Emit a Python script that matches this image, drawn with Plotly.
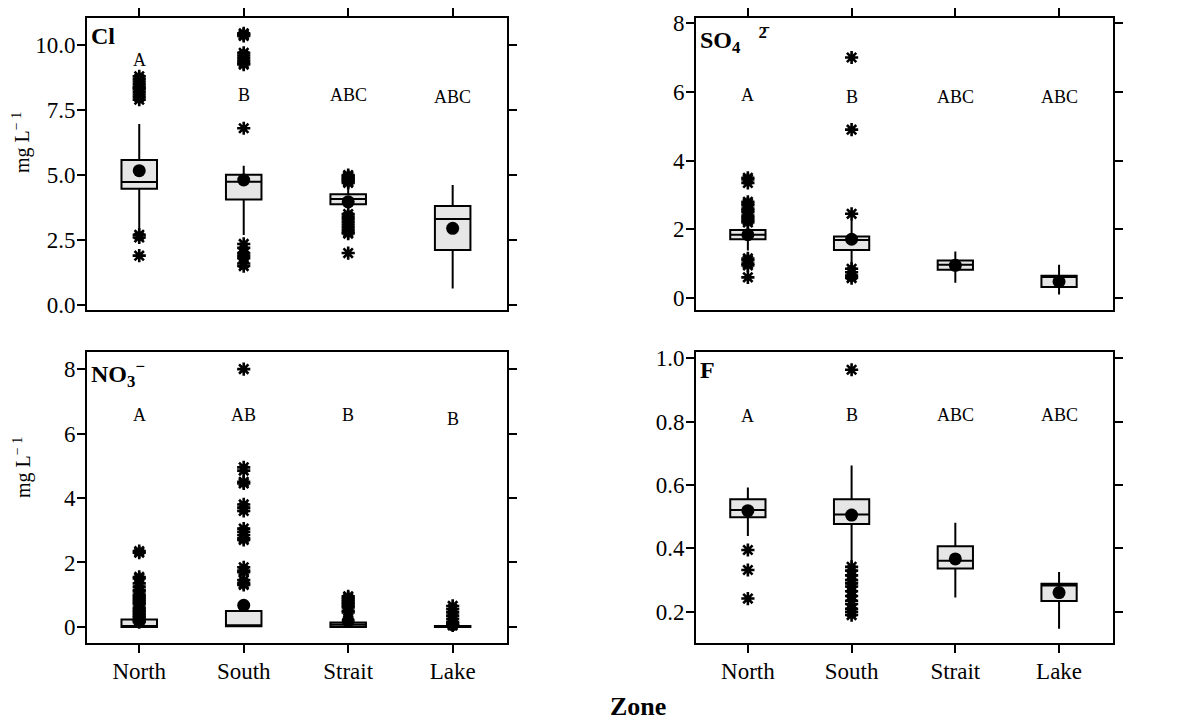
import plotly.graph_objects as go

zones = ["North", "South", "Strait", "Lake"]
xpos = [0, 1, 2, 3]

# ---- Cl ----
cl_q1 = [4.47, 4.06, 3.88, 2.12]
cl_median = [4.73, 4.74, 4.08, 3.31]
cl_q3 = [5.58, 5.01, 4.26, 3.81]
cl_low = [2.9, 2.69, 3.55, 0.64]
cl_high = [6.96, 5.36, 4.6, 4.62]
cl_mean = [5.17, 4.81, 3.97, 2.95]
cl_out = [
    [8.8, 8.7, 8.6, 8.5, 8.4, 8.35, 8.3, 8.2, 8.1, 8.0, 7.9, 2.7, 2.6, 1.9],
    [10.45, 10.4, 10.35, 9.7, 9.6, 9.5, 9.4, 9.3, 9.25, 6.8, 2.35, 2.2, 2.0, 1.9, 1.8, 1.6, 1.5],
    [5.0, 4.95, 4.9, 4.85, 4.8, 4.75, 4.7, 3.5, 3.4, 3.3, 3.2, 3.1, 3.0, 2.9, 2.8, 2.75, 2.0],
    [],
]
cl_letters = ["A", "B", "ABC", "ABC"]
cl_letter_y = [9.42, 8.08, 8.08, 8.01]

# ---- SO4 ----
so4_q1 = [1.71, 1.40, 0.82, 0.32]
so4_median = [1.84, 1.69, 0.97, 0.61]
so4_q3 = [1.98, 1.79, 1.09, 0.65]
so4_low = [1.38, 0.92, 0.44, 0.10]
so4_high = [2.15, 2.27, 1.35, 0.97]
so4_mean = [1.84, 1.71, 0.95, 0.48]
so4_out = [
    [3.5, 3.45, 3.35, 2.8, 2.75, 2.7, 2.6, 2.55, 2.5, 2.4, 2.35, 2.3, 2.25, 2.2, 1.15, 1.1, 1.0, 0.95, 0.6],
    [7.0, 4.9, 2.45, 0.85, 0.75, 0.65, 0.58],
    [],
    [],
]
so4_letters = ["A", "B", "ABC", "ABC"]
so4_letter_y = [5.9, 5.85, 5.85, 5.85]

# ---- NO3 ----
no3_q1 = [0.0, 0.02, 0.0, 0.0]
no3_median = [0.02, 0.04, 0.07, 0.01]
no3_q3 = [0.23, 0.49, 0.14, 0.03]
no3_low = [0.0, 0.0, 0.0, 0.0]
no3_high = [0.5, 0.75, 0.3, 0.05]
no3_mean = [0.18, 0.67, 0.18, 0.07]
no3_out = [
    [2.35, 2.3, 1.55, 1.5, 1.35, 1.25, 1.15, 1.1, 1.0, 0.95, 0.9, 0.85, 0.8, 0.75, 0.7, 0.6,
     0.55, 0.5, 0.45, 0.4, 0.35, 0.3, 0.25, 0.2, 0.15],
    [8.0, 4.95, 4.85, 4.5, 4.45, 3.8, 3.7, 3.6, 3.05, 2.95, 2.85, 2.75, 2.7, 1.85, 1.75, 1.7,
     1.45, 1.35, 1.3],
    [0.95, 0.9, 0.85, 0.8, 0.75, 0.7, 0.65, 0.6, 0.5, 0.45],
    [0.65, 0.55, 0.45, 0.35, 0.25, 0.15, 0.1, 0.05],
]
no3_letters = ["A", "AB", "B", "B"]
no3_letter_y = [6.58, 6.58, 6.58, 6.45]

# ---- F ----
f_q1 = [0.498, 0.477, 0.337, 0.234]
f_median = [0.521, 0.507, 0.361, 0.283]
f_q3 = [0.555, 0.555, 0.407, 0.289]
f_low = [0.439, 0.35, 0.245, 0.147]
f_high = [0.592, 0.661, 0.481, 0.326]
f_mean = [0.519, 0.505, 0.367, 0.261]
f_out = [
    [0.395, 0.332, 0.242],
    [0.963, 0.342, 0.33, 0.315, 0.30, 0.29, 0.28, 0.265, 0.25, 0.235, 0.225, 0.21, 0.20, 0.19],
    [],
    [],
]
f_letters = ["A", "B", "ABC", "ABC"]
f_letter_y = [0.816, 0.821, 0.821, 0.821]

FONT = "Liberation Serif, Times New Roman, serif"

# figure size accounting for the 8px page margin of the HTML body
W, H, OFF = 1195, 713, 8


def px(xp):
    return (xp - OFF) / W


def py(yp):
    return 1 - (yp - OFF) / H


LEFT = [px(87), px(507)]
RIGHT = [px(696), px(1113)]
TOP = [py(310), py(18)]
BOTTOM = [py(643), py(352)]

panels = [
    dict(q1=cl_q1, med=cl_median, q3=cl_q3, lo=cl_low, hi=cl_high, mean=cl_mean, out=cl_out,
         let=cl_letters, ly=cl_letter_y, xa="x", ya="y",
         xdom=LEFT, ydom=TOP, yrange=[-0.19, 11.04],
         tickvals=[0, 2.5, 5, 7.5, 10], fmt=".1f", top=True,
         label="<b>Cl</b>"),
    dict(q1=so4_q1, med=so4_median, q3=so4_q3, lo=so4_low, hi=so4_high, mean=so4_mean, out=so4_out,
         let=so4_letters, ly=so4_letter_y, xa="x2", ya="y2",
         xdom=RIGHT, ydom=TOP, yrange=[-0.35, 8.15],
         tickvals=[0, 2, 4, 6, 8], fmt="d", top=True,
         label="<b>SO<sub>4</sub>   <sup>2\u0304</sup></b>"),
    dict(q1=no3_q1, med=no3_median, q3=no3_q3, lo=no3_low, hi=no3_high, mean=no3_mean, out=no3_out,
         let=no3_letters, ly=no3_letter_y, xa="x3", ya="y3",
         xdom=LEFT, ydom=BOTTOM, yrange=[-0.5, 8.53],
         tickvals=[0, 2, 4, 6, 8], fmt="d", top=False,
         label="<b>NO<sub>3</sub><sup>\u2212</sup></b>"),
    dict(q1=f_q1, med=f_median, q3=f_q3, lo=f_low, hi=f_high, mean=f_mean, out=f_out,
         let=f_letters, ly=f_letter_y, xa="x4", ya="y4",
         xdom=RIGHT, ydom=BOTTOM, yrange=[0.102, 1.019],
         tickvals=[0.2, 0.4, 0.6, 0.8, 1.0], fmt=".1f", top=False,
         label="<b>F</b>"),
]

fig = go.Figure()
layout = dict(
    width=W, height=H,
    margin=dict(l=0, r=0, t=0, b=0),
    paper_bgcolor="white", plot_bgcolor="white",
    showlegend=False,
    font=dict(family=FONT, color="black", size=22),
)
annotations = []

for i, p in enumerate(panels):
    for k in range(4):
        fig.add_trace(go.Box(
            x=[xpos[k]], q1=[p["q1"][k]], median=[p["med"][k]], q3=[p["q3"][k]],
            lowerfence=[p["lo"][k]], upperfence=[p["hi"][k]],
            width=0.34, whiskerwidth=0, fillcolor="#e6e6e6",
            line=dict(color="black", width=2), boxpoints=False,
            xaxis=p["xa"], yaxis=p["ya"], hoverinfo="skip",
        ))
    ox, oy = [], []
    for k in range(4):
        for v in p["out"][k]:
            ox.append(xpos[k])
            oy.append(v)
    fig.add_trace(go.Scatter(
        x=ox, y=oy, mode="markers", xaxis=p["xa"], yaxis=p["ya"],
        marker=dict(symbol="asterisk-open", size=11, color="black",
                    line=dict(color="black", width=2.6)),
    ))
    fig.add_trace(go.Scatter(
        x=xpos, y=p["mean"], mode="markers", xaxis=p["xa"], yaxis=p["ya"],
        marker=dict(symbol="circle", size=13, color="black"),
    ))
    for k in range(4):
        annotations.append(dict(
            xref=p["xa"], yref=p["ya"], x=xpos[k], y=p["ly"][k], text=p["let"][k],
            showarrow=False, xanchor="center", yanchor="middle",
            font=dict(family=FONT, size=18, color="black"),
        ))

    n = "" if i == 0 else str(i + 1)
    layout["xaxis" + n] = dict(
        domain=p["xdom"], anchor=p["ya"], range=[-0.5, 3.52], automargin=False,
        tickvals=xpos, ticktext=zones, showticklabels=not p["top"],
        side="top" if p["top"] else "bottom",
        ticks="outside", ticklen=8, tickwidth=2, tickcolor="black",
        showline=True, linewidth=2, linecolor="black", mirror=True,
        showgrid=False, zeroline=False, ticklabelstandoff=-2,
        tickfont=dict(family=FONT, size=23, color="black"),
    )
    layout["yaxis" + n] = dict(
        domain=p["ydom"], anchor=p["xa"], range=p["yrange"], automargin=False,
        tickvals=p["tickvals"], tickformat=p["fmt"],
        ticks="outside", ticklen=8, tickwidth=2, tickcolor="black",
        showline=True, linewidth=2, linecolor="black", mirror="ticks",
        showgrid=False, zeroline=False, ticklabelstandoff=-3,
        tickfont=dict(family=FONT, size=23, color="black"),
    )
    annotations.append(dict(
        xref="paper", yref="paper", x=p["xdom"][0] + 0.002, y=p["ydom"][1] - 0.004,
        xanchor="left", yanchor="top", showarrow=False, text=p["label"],
        font=dict(family=FONT, size=24, color="black"),
    ))

for yc in [143, 468]:
    annotations.append(dict(
        xref="paper", yref="paper", x=px(22), y=py(yc), textangle=-90,
        xanchor="center", yanchor="middle",
        showarrow=False, text="mg L<sup>\u2212 1</sup>", font=dict(family=FONT, size=20, color="black"),
    ))
annotations.append(dict(
    xref="paper", yref="paper", x=px(638), y=py(706),
    xanchor="center", yanchor="middle",
    showarrow=False, text="<b>Zone</b>", font=dict(family=FONT, size=26, color="black"),
))
layout["annotations"] = annotations
fig.update_layout(**layout)
fig.write_html("out.html")
